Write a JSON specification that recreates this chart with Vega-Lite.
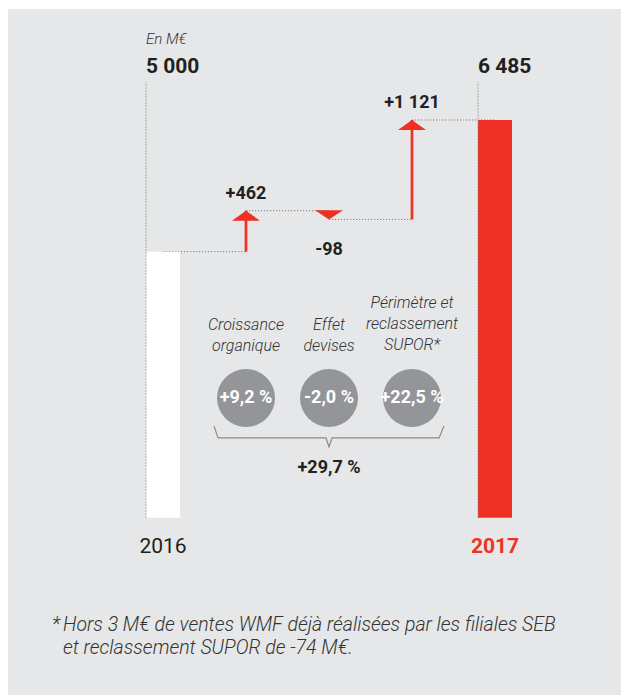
{
  "$schema": "https://vega.github.io/schema/vega-lite/v6.json",
  "width": 613,
  "height": 686,
  "autosize": {"type": "none"},
  "padding": {"left": 8, "top": 9, "right": 0, "bottom": 0},
  "background": "#ffffff",
  "config": {
    "view": {"fill": "#e6e7e8", "stroke": null},
    "axis": {"disable": true},
    "text": {"font": "Roboto", "color": "#231f20"}
  },
  "data": {
    "values": [
      {"step": "2016", "kind": "total", "value": 5000, "end": 5000, "next": "Croissance organique", "text": "5 000"},
      {"step": "Croissance organique", "kind": "delta", "from": 5000, "to": 5462, "end": 5462, "next": "Effet devises", "text": "+462", "pct": "+9,2 %", "desc": "Croissance\norganique"},
      {"step": "Effet devises", "kind": "delta", "from": 5462, "to": 5364, "end": 5364, "next": "Périmètre", "text": "-98", "pct": "-2,0 %", "desc": "Effet\ndevises"},
      {"step": "Périmètre", "kind": "delta", "from": 5364, "to": 6485, "end": 6485, "next": "2017", "text": "+1 121", "pct": "+22,5 %", "desc": "Périmètre et\nreclassement\nSUPOR*"},
      {"step": "2017", "kind": "total", "value": 6485, "end": 6485, "text": "6 485"}
    ]
  },
  "layer": [
    {
      "transform": [{"filter": "datum.next != null"}],
      "mark": {"type": "rule", "stroke": "#7d7d7d", "strokeWidth": 1, "strokeDash": [1.2, 1.8]},
      "encoding": {
        "x": {"field": "step", "type": "nominal", "axis": null, "scale": {"type": "band", "domain": ["2016", "Croissance organique", "Effet devises", "Périmètre", "2017"], "range": [138, 504], "paddingInner": 0.5904, "paddingOuter": 0}},
        "x2": {"field": "next"},
        "y": {"field": "end", "type": "quantitative", "axis": null, "scale": {"domain": [0, 7737], "nice": false, "zero": false}}
      }
    },
    {
      "transform": [{"filter": "datum.kind == 'total'"}],
      "mark": {"type": "bar"},
      "encoding": {
        "x": {"field": "step", "type": "nominal", "axis": null, "scale": {"type": "band", "domain": ["2016", "Croissance organique", "Effet devises", "Périmètre", "2017"], "range": [138, 504], "paddingInner": 0.5904, "paddingOuter": 0}},
        "y": {"field": "value", "type": "quantitative", "axis": null, "scale": {"domain": [0, 7737], "nice": false, "zero": false}},
        "y2": {"datum": 2000},
        "color": {"field": "step", "type": "nominal", "legend": null, "scale": {"domain": ["2016", "2017"], "range": ["#ffffff", "#ee3124"]}}
      }
    },
    {
      "transform": [{"filter": "datum.kind == 'total'"}],
      "mark": {"type": "rule", "stroke": "#7d7d7d", "strokeWidth": 1, "strokeDash": [1.2, 1.8]},
      "encoding": {
        "x": {"field": "step", "type": "nominal", "bandPosition": 0, "axis": null, "scale": {"type": "band", "domain": ["2016", "Croissance organique", "Effet devises", "Périmètre", "2017"], "range": [138, 504], "paddingInner": 0.5904, "paddingOuter": 0}},
        "y": {"datum": 2000, "type": "quantitative", "axis": null, "scale": {"domain": [0, 7737], "nice": false, "zero": false}},
        "y2": {"datum": 6914}
      }
    },
    {
      "transform": [{"filter": "datum.kind == 'delta' && abs(datum.to - datum.from) > 200"}],
      "mark": {"type": "rule", "stroke": "#ee3124", "strokeWidth": 2.7},
      "encoding": {
        "x": {"field": "step", "type": "nominal", "axis": null, "scale": {"type": "band", "domain": ["2016", "Croissance organique", "Effet devises", "Périmètre", "2017"], "range": [138, 504], "paddingInner": 0.5904, "paddingOuter": 0}},
        "y": {"field": "from", "type": "quantitative", "axis": null, "scale": {"domain": [0, 7737], "nice": false, "zero": false}},
        "y2": {"field": "to"}
      }
    },
    {
      "transform": [{"filter": "datum.kind == 'delta' && datum.to > datum.from"}],
      "mark": {"type": "point", "shape": "M0,0L1,0.714L-1,0.714Z", "size": 784, "filled": true, "fill": "#ee3124", "strokeWidth": 0, "opacity": 1},
      "encoding": {
        "x": {"field": "step", "type": "nominal", "axis": null, "scale": {"type": "band", "domain": ["2016", "Croissance organique", "Effet devises", "Périmètre", "2017"], "range": [138, 504], "paddingInner": 0.5904, "paddingOuter": 0}},
        "y": {"field": "to", "type": "quantitative", "axis": null, "scale": {"domain": [0, 7737], "nice": false, "zero": false}}
      }
    },
    {
      "transform": [{"filter": "datum.kind == 'delta' && datum.to < datum.from"}],
      "mark": {"type": "point", "shape": "M0,0L1,-0.66L-1,-0.66Z", "size": 784, "filled": true, "fill": "#ee3124", "strokeWidth": 0, "opacity": 1},
      "encoding": {
        "x": {"field": "step", "type": "nominal", "axis": null, "scale": {"type": "band", "domain": ["2016", "Croissance organique", "Effet devises", "Périmètre", "2017"], "range": [138, 504], "paddingInner": 0.5904, "paddingOuter": 0}},
        "y": {"field": "to", "type": "quantitative", "axis": null, "scale": {"domain": [0, 7737], "nice": false, "zero": false}}
      }
    },
    {
      "transform": [{"filter": "datum.kind == 'delta' && datum.to > datum.from"}],
      "mark": {"type": "text", "fontWeight": "bold", "fontSize": 18, "dy": -12, "baseline": "alphabetic", "align": "center"},
      "encoding": {
        "x": {"field": "step", "type": "nominal", "axis": null, "scale": {"type": "band", "domain": ["2016", "Croissance organique", "Effet devises", "Périmètre", "2017"], "range": [138, 504], "paddingInner": 0.5904, "paddingOuter": 0}},
        "y": {"field": "to", "type": "quantitative", "axis": null, "scale": {"domain": [0, 7737], "nice": false, "zero": false}},
        "text": {"field": "text"}
      }
    },
    {
      "transform": [{"filter": "datum.kind == 'delta' && datum.to < datum.from"}],
      "mark": {"type": "text", "fontWeight": "bold", "fontSize": 18, "dy": 36, "baseline": "alphabetic", "align": "center"},
      "encoding": {
        "x": {"field": "step", "type": "nominal", "axis": null, "scale": {"type": "band", "domain": ["2016", "Croissance organique", "Effet devises", "Périmètre", "2017"], "range": [138, 504], "paddingInner": 0.5904, "paddingOuter": 0}},
        "y": {"field": "to", "type": "quantitative", "axis": null, "scale": {"domain": [0, 7737], "nice": false, "zero": false}},
        "text": {"field": "text"}
      }
    },
    {
      "transform": [{"filter": "datum.kind == 'total'"}],
      "mark": {"type": "text", "fontWeight": "bold", "fontSize": 21, "baseline": "alphabetic", "align": "left"},
      "encoding": {
        "x": {"field": "step", "type": "nominal", "bandPosition": 0, "axis": null, "scale": {"type": "band", "domain": ["2016", "Croissance organique", "Effet devises", "Périmètre", "2017"], "range": [138, 504], "paddingInner": 0.5904, "paddingOuter": 0}},
        "y": {"datum": 7016, "type": "quantitative", "axis": null, "scale": {"domain": [0, 7737], "nice": false, "zero": false}},
        "text": {"field": "text"}
      }
    },
    {
      "data": {"values": [{"step": "2016", "note": "En M€"}]},
      "mark": {"type": "text", "fontStyle": "italic", "fontWeight": 300, "fontSize": 15, "baseline": "alphabetic", "align": "left", "color": "#333333"},
      "encoding": {
        "x": {"field": "step", "type": "nominal", "bandPosition": 0, "axis": null, "scale": {"type": "band", "domain": ["2016", "Croissance organique", "Effet devises", "Périmètre", "2017"], "range": [138, 504], "paddingInner": 0.5904, "paddingOuter": 0}},
        "y": {"datum": 7343, "type": "quantitative", "axis": null, "scale": {"domain": [0, 7737], "nice": false, "zero": false}},
        "text": {"field": "note"}
      }
    },
    {
      "transform": [{"filter": "datum.kind == 'delta' && indexof(datum.desc, 'SUPOR') < 0"}],
      "mark": {"type": "text", "fontStyle": "italic", "fontWeight": 300, "fontSize": 16, "baseline": "alphabetic", "align": "center", "lineBreak": "\n", "lineHeight": 21, "color": "#333333"},
      "encoding": {
        "x": {"field": "step", "type": "nominal", "axis": null, "scale": {"type": "band", "domain": ["2016", "Croissance organique", "Effet devises", "Périmètre", "2017"], "range": [138, 504], "paddingInner": 0.5904, "paddingOuter": 0}},
        "y": {"datum": 4117, "type": "quantitative", "axis": null, "scale": {"domain": [0, 7737], "nice": false, "zero": false}},
        "text": {"field": "desc"}
      }
    },
    {
      "transform": [{"filter": "datum.kind == 'delta' && indexof(datum.desc, 'SUPOR') >= 0"}],
      "mark": {"type": "text", "fontStyle": "italic", "fontWeight": 300, "fontSize": 16, "baseline": "alphabetic", "align": "center", "lineBreak": "\n", "lineHeight": 21, "color": "#333333"},
      "encoding": {
        "x": {"field": "step", "type": "nominal", "axis": null, "scale": {"type": "band", "domain": ["2016", "Croissance organique", "Effet devises", "Périmètre", "2017"], "range": [138, 504], "paddingInner": 0.5904, "paddingOuter": 0}},
        "y": {"datum": 4365, "type": "quantitative", "axis": null, "scale": {"domain": [0, 7737], "nice": false, "zero": false}},
        "text": {"field": "desc"}
      }
    },
    {
      "transform": [{"filter": "datum.kind == 'delta'"}],
      "mark": {"type": "point", "shape": "circle", "size": 3364, "filled": true, "fill": "#939598", "strokeWidth": 0, "opacity": 1},
      "encoding": {
        "x": {"field": "step", "type": "nominal", "axis": null, "scale": {"type": "band", "domain": ["2016", "Croissance organique", "Effet devises", "Périmètre", "2017"], "range": [138, 504], "paddingInner": 0.5904, "paddingOuter": 0}},
        "y": {"datum": 3350, "type": "quantitative", "axis": null, "scale": {"domain": [0, 7737], "nice": false, "zero": false}}
      }
    },
    {
      "transform": [{"filter": "datum.kind == 'delta'"}],
      "mark": {"type": "text", "fontWeight": "bold", "fontSize": 18, "baseline": "middle", "align": "center", "color": "#ffffff"},
      "encoding": {
        "x": {"field": "step", "type": "nominal", "axis": null, "scale": {"type": "band", "domain": ["2016", "Croissance organique", "Effet devises", "Périmètre", "2017"], "range": [138, 504], "paddingInner": 0.5904, "paddingOuter": 0}},
        "y": {"datum": 3350, "type": "quantitative", "axis": null, "scale": {"domain": [0, 7737], "nice": false, "zero": false}},
        "text": {"field": "pct"}
      }
    },
    {
      "data": {"values": [{"step": "Effet devises", "total": "+29,7 %"}]},
      "mark": {"type": "point", "shape": "M-1,-0.091L-0.965,0.013L-0.026,0.013L0,0.091L0.026,0.013L0.957,0.013L1,-0.091", "size": 52900, "filled": false, "stroke": "#8c8c8c", "strokeWidth": 1.2, "opacity": 1},
      "encoding": {
        "x": {"field": "step", "type": "nominal", "axis": null, "scale": {"type": "band", "domain": ["2016", "Croissance organique", "Effet devises", "Périmètre", "2017"], "range": [138, 504], "paddingInner": 0.5904, "paddingOuter": 0}},
        "y": {"datum": 2916, "type": "quantitative", "axis": null, "scale": {"domain": [0, 7737], "nice": false, "zero": false}}
      }
    },
    {
      "data": {"values": [{"step": "Effet devises", "total": "+29,7 %"}]},
      "mark": {"type": "text", "fontWeight": "bold", "fontSize": 18, "baseline": "alphabetic", "align": "center"},
      "encoding": {
        "x": {"field": "step", "type": "nominal", "axis": null, "scale": {"type": "band", "domain": ["2016", "Croissance organique", "Effet devises", "Périmètre", "2017"], "range": [138, 504], "paddingInner": 0.5904, "paddingOuter": 0}},
        "y": {"datum": 2504, "type": "quantitative", "axis": null, "scale": {"domain": [0, 7737], "nice": false, "zero": false}},
        "text": {"field": "total"}
      }
    },
    {
      "transform": [{"filter": "datum.step == '2016'"}],
      "mark": {"type": "text", "fontWeight": "normal", "fontSize": 21, "baseline": "alphabetic", "align": "center", "color": "#231f20"},
      "encoding": {
        "x": {"field": "step", "type": "nominal", "axis": null, "scale": {"type": "band", "domain": ["2016", "Croissance organique", "Effet devises", "Périmètre", "2017"], "range": [138, 504], "paddingInner": 0.5904, "paddingOuter": 0}},
        "y": {"datum": 1602, "type": "quantitative", "axis": null, "scale": {"domain": [0, 7737], "nice": false, "zero": false}},
        "text": {"field": "step"}
      }
    },
    {
      "transform": [{"filter": "datum.step == '2017'"}],
      "mark": {"type": "text", "fontWeight": "bold", "fontSize": 21, "baseline": "alphabetic", "align": "center", "color": "#ee3124"},
      "encoding": {
        "x": {"field": "step", "type": "nominal", "axis": null, "scale": {"type": "band", "domain": ["2016", "Croissance organique", "Effet devises", "Périmètre", "2017"], "range": [138, 504], "paddingInner": 0.5904, "paddingOuter": 0}},
        "y": {"datum": 1602, "type": "quantitative", "axis": null, "scale": {"domain": [0, 7737], "nice": false, "zero": false}},
        "text": {"field": "step"}
      }
    },
    {
      "data": {"values": [{"step": "2016", "mark": "*", "note": "Hors 3 M€ de ventes WMF déjà réalisées par les filiales SEB\net reclassement SUPOR de -74 M€."}]},
      "mark": {"type": "text", "fontStyle": "italic", "fontWeight": 300, "fontSize": 19.5, "baseline": "alphabetic", "align": "left", "dx": -94, "color": "#333333"},
      "encoding": {
        "x": {"field": "step", "type": "nominal", "bandPosition": 0, "axis": null, "scale": {"type": "band", "domain": ["2016", "Croissance organique", "Effet devises", "Périmètre", "2017"], "range": [138, 504], "paddingInner": 0.5904, "paddingOuter": 0}},
        "y": {"datum": 722, "type": "quantitative", "axis": null, "scale": {"domain": [0, 7737], "nice": false, "zero": false}},
        "text": {"field": "mark"}
      }
    },
    {
      "data": {"values": [{"step": "2016", "mark": "*", "note": "Hors 3 M€ de ventes WMF déjà réalisées par les filiales SEB\net reclassement SUPOR de -74 M€."}]},
      "mark": {"type": "text", "fontStyle": "italic", "fontWeight": 300, "fontSize": 19.5, "baseline": "alphabetic", "align": "left", "dx": -83, "lineBreak": "\n", "lineHeight": 23, "color": "#333333"},
      "encoding": {
        "x": {"field": "step", "type": "nominal", "bandPosition": 0, "axis": null, "scale": {"type": "band", "domain": ["2016", "Croissance organique", "Effet devises", "Périmètre", "2017"], "range": [138, 504], "paddingInner": 0.5904, "paddingOuter": 0}},
        "y": {"datum": 722, "type": "quantitative", "axis": null, "scale": {"domain": [0, 7737], "nice": false, "zero": false}},
        "text": {"field": "note"}
      }
    }
  ]
}
